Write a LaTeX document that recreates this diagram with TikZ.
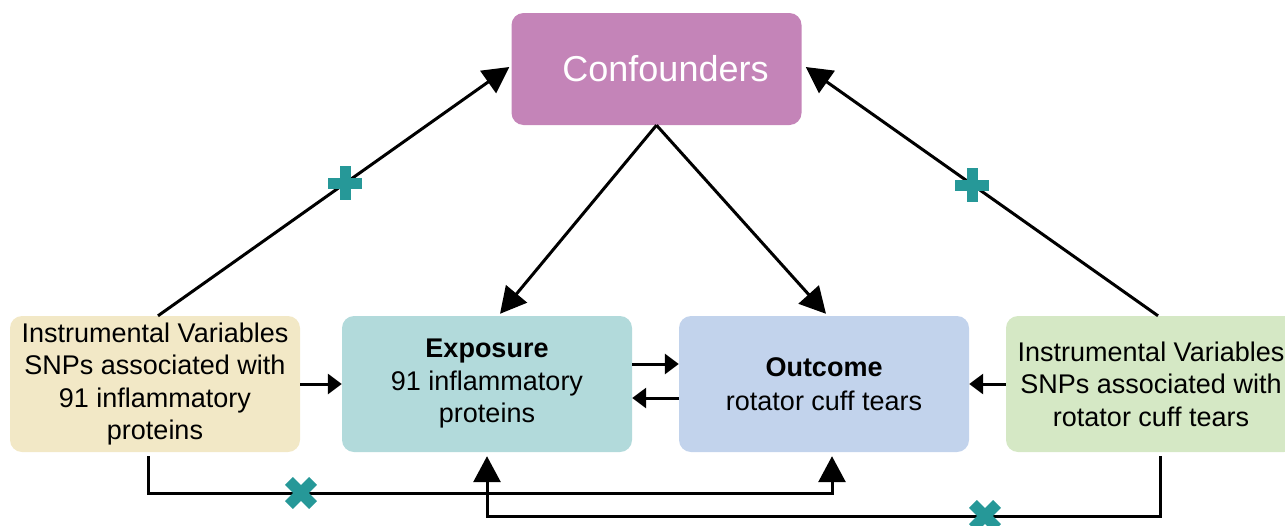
\documentclass[tikz,border=0pt]{standalone}
\usepackage{fontspec}
\setmainfont{Liberation Sans}
\usetikzlibrary{arrows.meta,calc}

\definecolor{confcol}{RGB}{196,132,184}
\definecolor{livcol}{RGB}{242,232,198}
\definecolor{expcol}{RGB}{178,218,219}
\definecolor{outcol}{RGB}{194,211,236}
\definecolor{rivcol}{RGB}{213,232,197}
\definecolor{blockcol}{RGB}{38,152,152}

\tikzset{
  box/.style={rounded corners=12pt, minimum width=290pt, minimum height=136pt,
    align=center, inner sep=0pt, font=\fontsize{27}{32.5}\selectfont},
  arr/.style={line width=3pt, -{Triangle[length=26pt,width=27pt]}},
  shortarr/.style={line width=3pt, -{Triangle[length=14pt,width=20pt]}},
  barmark/.pic={
    \draw[blockcol, line width=11pt] (-17,0) -- (17,0);
    \draw[blockcol, line width=11pt] (0,-17) -- (0,17);
  }
}

\begin{document}
\begin{tikzpicture}[x=1pt, y=-1pt]
\useasboundingbox (0,0) rectangle (1285,525);

% boxes
\node[box, fill=confcol, minimum height=112pt, text=white,
      font=\fontsize{36}{40}\selectfont] (conf) at (656.5,69) {\hspace*{18pt}Confounders};
\node[box, fill=livcol] (liv) at (155,384)
  {Instrumental Variables\\SNPs associated with\\91 inflammatory\\proteins};
\node[box, fill=expcol] (exp) at (487,384)
  {\textbf{Exposure}\\91 inflammatory\\proteins};
\node[box, fill=outcol, font=\fontsize{27}{34}\selectfont] (out) at (824,384)
  {\textbf{Outcome}\\rotator cuff tears};
\node[box, fill=rivcol] (riv) at (1151,384)
  {Instrumental Variables\\SNPs associated with\\rotator cuff tears};

% instruments to confounders
\draw[arr] ($(liv.north)+(3,0)$) -- ($(conf.west)+(-2,-2)$);
\draw[arr] ($(riv.north)+(7,0)$) -- ($(conf.east)+(4,-2)$);

% confounders to exposure and outcome
\draw[arr] (conf.south) -- ($(exp.north)+(13,-2)$);
\draw[arr] (conf.south) -- ($(out.north)+(2,-2)$);

% horizontal links
\draw[shortarr] (liv.east) -- (exp.west);
\draw[shortarr] ($(exp.east)+(0,-20)$) -- ($(out.west)+(0,-20)$);
\draw[shortarr] ($(out.west)+(0,14)$) -- ($(exp.east)+(0,14)$);
\draw[shortarr] (riv.west) -- (out.east);

% direct instrument-to-outcome paths
\draw[arr] ($(liv.south)+(-7,4)$) |- ($(out.south)+(8,41)$) -- ($(out.south)+(8,4)$);
\draw[arr] ($(riv.south)+(9,4)$) |- ($(exp.south)+(0,64)$) -- ($(exp.south)+(0,4)$);

% blocked paths
\pic at (345,183) {barmark};
\pic at (972,185) {barmark};
\pic[rotate=45] at (301,493) {barmark};
\pic[rotate=45] at (985,516) {barmark};
\end{tikzpicture}
\end{document}
